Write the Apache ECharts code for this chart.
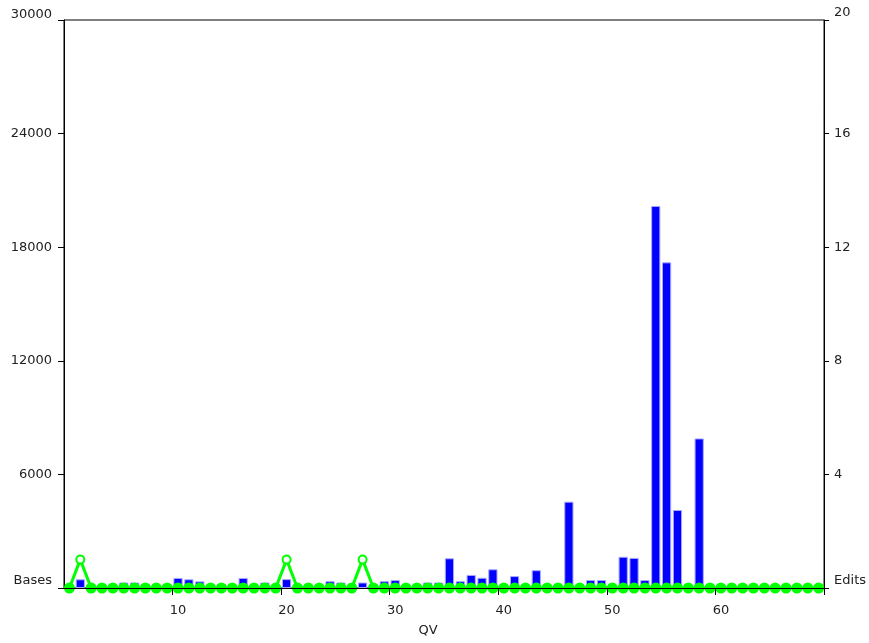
<!DOCTYPE html>
<html>
<head>
<meta charset="utf-8">
<script src="https://cdn.jsdelivr.net/npm/echarts@6/dist/echarts.min.js"></script>
<style>
  html, body { margin: 0; padding: 0; background: #fff; }
  #chart { width: 869px; height: 643px; }
</style>
</head>
<body>
<div id="chart"></div>
<script>
// quality values on the x axis
var qv = [0, 1, 2, 3, 4, 5, 6, 7, 8, 9,
    10, 11, 12, 13, 14, 15, 16, 17, 18, 19,
    20, 21, 22, 23, 24, 25, 26, 27, 28, 29,
    30, 31, 32, 33, 34, 35, 36, 37, 38, 39,
    40, 41, 42, 43, 44, 45, 46, 47, 48, 49,
    50, 51, 52, 53, 54, 55, 56, 57, 58, 59,
    60, 61, 62, 63, 64, 65, 66, 67, 68, 69];

// bases per QV (left axis)
var bases = [0, 460, 150, 0, 0, 290, 290, 210, 150, 200,
    530, 460, 350, 150, 210, 150, 530, 100, 290, 150,
    470, 150, 100, 150, 360, 290, 100, 290, 200, 360,
    420, 150, 150, 290, 290, 1570, 360, 690, 540, 990,
    150, 630, 100, 940, 150, 0, 4560, 100, 420, 420,
    100, 1650, 1590, 420, 20180, 17200, 4120, 0, 7900, 0,
    0, 0, 0, 0, 0, 0, 0, 0, 0, 0];

// edits per QV (right axis)
var edits = [0, 1, 0, 0, 0, 0, 0, 0, 0, 0,
    0, 0, 0, 0, 0, 0, 0, 0, 0, 0,
    1, 0, 0, 0, 0, 0, 0, 1, 0, 0,
    0, 0, 0, 0, 0, 0, 0, 0, 0, 0,
    0, 0, 0, 0, 0, 0, 0, 0, 0, 0,
    0, 0, 0, 0, 0, 0, 0, 0, 0, 0,
    0, 0, 0, 0, 0, 0, 0, 0, 0, 0];

var basesMax = 30000, basesStep = 6000;
var editsMax = 20, editsStep = 4;

var font = "DejaVu Sans";
var txt = "#222";

var chart = echarts.init(document.getElementById("chart"));

chart.setOption({
    animation: false,
    backgroundColor: "#fff",
    textStyle: {fontFamily: font},
    grid: {
        left: 64, right: 42, top: 20, bottom: 55,
        show: true, borderColor: "#000", borderWidth: 1, backgroundColor: "#fff"
    },
    xAxis: {
        type: "category",
        data: qv,
        z: 5,
        name: "QV",
        nameLocation: "middle",
        nameGap: 36,
        nameTextStyle: {fontFamily: font, fontSize: 13, color: txt, padding: [0, 32, 0, 0]},
        axisLine: {lineStyle: {color: "#000", width: 1}},
        axisTick: {
            show: true, length: 7, alignWithLabel: false,
            interval: function (i) { return i > 0 && i % 10 === 0; },
            lineStyle: {color: "#000"}
        },
        axisLabel: {
            fontFamily: font, fontSize: 13, color: txt, margin: 16,
            interval: function (i) { return i > 0 && i % 10 === 0; }
        },
        splitLine: {show: false}
    },
    yAxis: [{
        type: "value",
        min: 0, max: basesMax, interval: basesStep,
        position: "left",
        axisLine: {show: true, lineStyle: {color: "#000"}},
        axisTick: {show: true, length: 6, lineStyle: {color: "#000"}},
        splitLine: {show: false},
        axisLabel: {
            fontFamily: font, fontSize: 13, color: txt, margin: 12,
            formatter: function (v) {
                if (v === 0) return "{lo|Bases}";
                if (v === basesMax) return "{hi|" + v + "}";
                return v;
            },
            rich: {
                lo: {fontFamily: font, fontSize: 13, color: txt, padding: [0, 0, 14, 0]},
                hi: {fontFamily: font, fontSize: 13, color: txt, padding: [0, 0, 11, 0]}
            }
        }
    }, {
        type: "value",
        min: 0, max: editsMax, interval: editsStep,
        position: "right",
        axisLine: {show: true, lineStyle: {color: "#000"}},
        axisTick: {show: true, length: 5, lineStyle: {color: "#000"}},
        splitLine: {show: false},
        axisLabel: {
            fontFamily: font, fontSize: 13, color: txt, margin: 10,
            formatter: function (v) {
                if (v === 0) return "{lo|Edits}";
                if (v === editsMax) return "{hi|" + v + "}";
                return v;
            },
            rich: {
                lo: {fontFamily: font, fontSize: 13, color: txt, padding: [0, 0, 14, 0]},
                hi: {fontFamily: font, fontSize: 13, color: txt, padding: [0, 0, 15, 0]}
            }
        }
    }],
    series: [{
        name: "Bases",
        type: "bar",
        yAxisIndex: 0,
        data: bases,
        barCategoryGap: "15%",
        itemStyle: {color: "#0000ff", borderColor: "#a8a8ff", borderWidth: 1}
    }, {
        name: "Edits",
        type: "line",
        yAxisIndex: 1,
        data: edits,
        z: 3,
        showAllSymbol: true,
        symbol: function (v) { return v > 0 ? "emptyCircle" : "circle"; },
        symbolSize: function (v) { return v > 0 ? 8 : 9; },
        lineStyle: {color: "#00ff00", width: 3},
        itemStyle: {color: "#00ff00", borderColor: "#00ff00", borderWidth: 2}
    }]
});
</script>
</body>
</html>
